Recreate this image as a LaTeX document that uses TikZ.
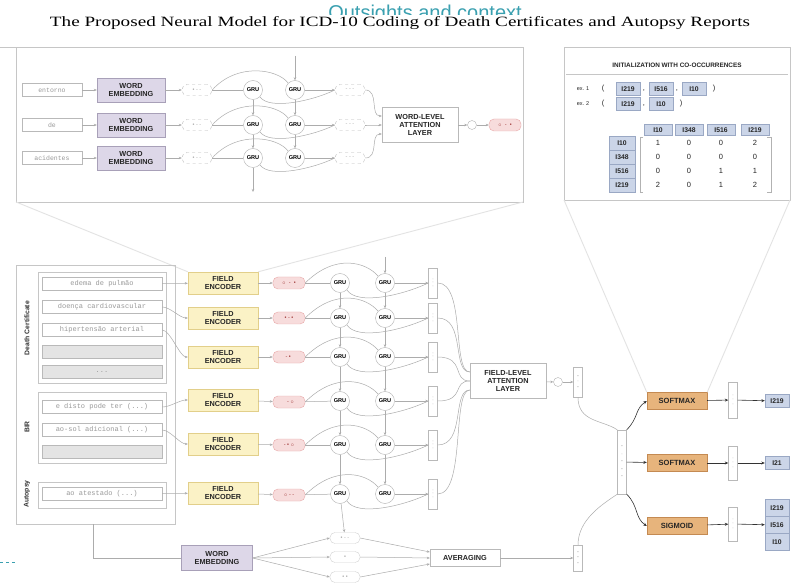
\documentclass[tikz,border=0pt]{standalone}
\usepackage{fontspec}
\usepackage{graphicx}
\setmainfont{Liberation Serif}
\setsansfont{Liberation Sans}
\setmonofont{Liberation Mono}
\usetikzlibrary{arrows.meta,calc}
\definecolor{lavf}{HTML}{DDD7E8}
\definecolor{lavb}{HTML}{A8A0B8}
\definecolor{yelf}{HTML}{FBF2C6}
\definecolor{yelb}{HTML}{E2CF8A}
\definecolor{pinkf}{HTML}{F7DCDC}
\definecolor{pinkb}{HTML}{E8A8A8}
\definecolor{dred}{HTML}{9A2E2E}
\definecolor{orf}{HTML}{E7B47C}
\definecolor{orb}{HTML}{C48A52}
\definecolor{bluf}{HTML}{CBD5E8}
\definecolor{blub}{HTML}{9AA8C4}
\definecolor{rowg}{HTML}{E4E4E4}
\definecolor{tealc}{HTML}{3AA0B0}
\begin{document}
\begin{tikzpicture}[x=1pt,y=-1pt,
  lb/.style={font=\sffamily\bfseries\fontsize{7.3}{8}\selectfont, align=center, inner sep=1pt, text=black!85},
  wemb/.style={lb, draw=lavb, fill=lavf, minimum width=68pt, minimum height=24pt},
  tbox/.style={draw=gray!55, minimum width=60pt, minimum height=13pt, font=\ttfamily\fontsize{6.5}{7}\selectfont, text=gray!80, inner sep=1pt},
  rowbox/.style={draw=gray!55, minimum width=120pt, minimum height=13pt, font=\ttfamily\fontsize{7}{7.5}\selectfont, text=gray!80, inner sep=1pt},
  rowgray/.style={rowbox, fill=rowg},
  grp/.style={draw=gray!45, line width=0.6pt},
  hvec/.style={draw=gray!55, dashed, rounded corners=5pt, minimum width=30pt, minimum height=11pt, inner sep=0pt, font=\sffamily\fontsize{5.5}{5.5}\selectfont, text=gray!70},
  gru/.style={circle, draw=gray!60, fill=white, minimum size=19pt, inner sep=0pt, font=\sffamily\bfseries\fontsize{5.6}{6}\selectfont},
  vvec/.style={draw=gray!55, fill=white, minimum width=9pt, minimum height=30pt, inner sep=0pt, align=center, font=\sffamily\fontsize{4}{4.5}\selectfont, text=gray!70},
  fenc/.style={lb, draw=yelb, fill=yelf, minimum width=70pt, minimum height=22pt},
  rvec/.style={draw=pinkb, fill=pinkf, rounded corners=5pt, minimum width=32pt, minimum height=12pt, inner sep=0pt, font=\sffamily\fontsize{5.5}{5.5}\selectfont, text=dred},
  attbox/.style={lb, draw=gray!55, minimum width=76pt, minimum height=35pt},
  actbox/.style={lb, draw=orb, fill=orf, minimum width=60pt, minimum height=17pt, font=\sffamily\bfseries\fontsize{7.5}{8}\selectfont},
  codelbl/.style={lb, draw=blub, fill=bluf, minimum width=24pt, minimum height=13pt, font=\sffamily\bfseries\fontsize{6.8}{7}\selectfont},
  smallc/.style={circle, draw=gray!60, minimum size=9pt, inner sep=0pt},
  conn/.style={draw=gray!65, line width=0.5pt},
  arr/.style={conn, -{Stealth[length=3pt,width=2.5pt]}},
  darkarr/.style={draw=gray!40!black, line width=0.6pt, -{Stealth[length=3.5pt,width=3pt]}},
  zoomln/.style={draw=gray!22, line width=0.9pt},
  panel/.style={draw=gray!45, line width=0.8pt},
  rotlbl/.style={rotate=90, font=\sffamily\bfseries\fontsize{6.8}{7}\selectfont, text=black!80},
  small/.style={lb, font=\sffamily\fontsize{7.5}{8}\selectfont},
]
\useasboundingbox (0,0) rectangle (798,585);
\fill[white] (0,0) rectangle (798,585);

% ---------- title ----------
\node[text=tealc, font=\sffamily\fontsize{20}{22}\selectfont] (wm) at (425,14) {Outsights and context};
\node[fill=white, inner sep=1.5pt] (title) at (400,23) {\resizebox{700pt}{10pt}{\fontsize{14}{16}\selectfont The Proposed Neural Model for ICD-10 Coding of Death Certificates and Autopsy Reports}};

\draw[gray!45, line width=0.8pt] (0,47) -- (16,47);
\draw[tealc, dashed, line width=0.8pt] (0,562) -- (16,562);

% ---------- zoom lines ----------
\coordinate (tpl) at (16,202);
\coordinate (tpr) at (523,202);
\coordinate (rpl) at (564,200);
\coordinate (rpr) at (790,200);

% ---------- top-left panel ----------
\draw[panel, fill=white] (16,47) rectangle (523,202);
\foreach \i/\y/\t in {1/90/entorno,2/125/de,3/158/acidentes}{
  \node[tbox] (w\i) at (52,\y) {\t};
  \node[wemb] (e\i) at (131,\y) {WORD\\EMBEDDING};
  \node[hvec] (v\i) at (197,\y) {\textbullet\ - -};
  \node[gru] (ga\i) at (253,\y) {GRU};
  \node[gru] (gb\i) at (295,\y) {GRU};
  \node[hvec] (h\i) at (350,\y) {- - -};
}
\node[attbox] (att) at (420,125) {WORD-LEVEL\\ATTENTION\\LAYER};
\node[smallc] (c1) at (472,125) {};
\node[rvec] (r1) at (505,125) {$\circ$\ \ -\ \ \textbullet};
\coordinate (gbtop) at (295,56);
\coordinate (gabot) at (253,192);
\foreach \i/\o in {1/-9,2/0,3/9}{
  \draw[arr] (w\i) -- (e\i);
  \draw[arr] (e\i) -- (v\i);
  \draw[conn] (v\i) -- (ga\i);
  \draw[conn] (v\i.east) .. controls +(25,-28) and +(-10,-14) .. (gb\i.north west);
  \draw[conn] (ga\i.south east) .. controls +(10,14) and +(-20,10) .. (h\i.west);
  \draw[arr] (gb\i) -- (h\i);
  \draw[arr] (h\i.east) .. controls +(14,0) and +(-12,0) .. ($(att.west)+(0,\o)$);
}
\draw[arr] (gbtop) -- (gb1);
\draw[arr] (gb1) -- (gb2);
\draw[arr] (gb2) -- (gb3);
\draw[arr] (ga1) -- (ga2);
\draw[arr] (ga2) -- (ga3);
\draw[arr] (ga3) -- (gabot);
\draw[arr] (att) -- (c1);
\draw[arr] (c1) -- (r1);

% ---------- right panel ----------
\draw[panel, fill=white] (564,47) rectangle (790,200);
\node[lb, font=\sffamily\bfseries\fontsize{6.4}{7}\selectfont] (hdr) at (677,65) {INITIALIZATION WITH CO-OCCURRENCES};
\draw[gray!45] (566,74) -- (788,74);
\node[lb, font=\sffamily\fontsize{5.5}{6}\selectfont] (ex1) at (583,89) {ex. 1};
\node[small] (p1) at (603,89) {(};
\node[codelbl] (x11) at (628,89) {I219};
\node[small] at (644,91) {,};
\node[codelbl] (x12) at (661,89) {I516};
\node[small] at (677,91) {,};
\node[codelbl] (x13) at (694,89) {I10};
\node[small] (p2) at (714,89) {)};
\node[lb, font=\sffamily\fontsize{5.5}{6}\selectfont] (ex2) at (583,104) {ex. 2};
\node[small] (p3) at (603,104) {(};
\node[codelbl] (x21) at (628,104) {I219};
\node[small] at (644,106) {,};
\node[codelbl] (x22) at (661,104) {I10};
\node[small] (p4) at (681,104) {)};
\foreach \c/\x/\t in {1/658/I10,2/689/I348,3/721/I516,4/755/I219}{
  \node[codelbl, minimum width=28pt, minimum height=11pt] (ch\c) at (\x,130) {\t};
}
\foreach \r/\y/\t in {1/143/I10,2/157/I348,3/171/I516,4/185/I219}{
  \node[codelbl, minimum width=26pt, minimum height=14pt] (rh\r) at (622,\y) {\t};
}
\foreach \r/\y/\a/\b/\c/\d in {1/143/1/0/0/2,2/157/0/0/0/0,3/171/0/0/1/1,4/185/2/0/1/2}{
  \node[small] at (658,\y) {\a};
  \node[small] at (689,\y) {\b};
  \node[small] at (721,\y) {\c};
  \node[small] at (755,\y) {\d};
}
\draw[gray!60, line width=0.6pt] (643,137) -- (640,137) -- (640,192) -- (643,192);
\draw[gray!60, line width=0.6pt] (767,137) -- (771,137) -- (771,192) -- (767,192);

% ---------- zoom guide lines ----------
\node[fenc] (fe1) at (223,283) {FIELD\\ENCODER};
\draw[zoomln] (tpl) -- (fe1.north west);
\draw[zoomln] (tpr) -- (fe1.north east);

% ---------- left input panel ----------
\draw[panel] (16,265) rectangle (175,524);
\draw[grp] (38,272) rectangle (166,383);
\draw[grp] (38,392) rectangle (166,463);
\draw[grp] (38,482) rectangle (166,508);
\node[rotlbl] (dcl) at (27,328) {Death Certificate};
\node[rotlbl] (birl) at (27,427) {BIR};
\node[rotlbl] (aul) at (27,494) {Autopsy};
\node[rowbox] (d1) at (102,284) {edema de pulmão};
\node[rowbox] (d2) at (102,307) {doença cardiovascular};
\node[rowbox] (d3) at (102,330) {hipertensão arterial};
\node[rowgray] (d4) at (102,352) {};
\node[rowgray] (d5) at (102,372) {...};
\node[rowbox] (b1) at (102,407) {e disto pode ter (...)};
\node[rowbox] (b2) at (102,430) {ao-sol adicional (...)};
\node[rowgray] (b3) at (102,452) {};
\node[rowbox] (a1) at (102,494) {ao atestado (...)};

% ---------- field encoders & GRUs ----------
\foreach \i/\y in {2/318,3/357,4/400,5/444,6/493}{
  \node[fenc] (fe\i) at (223,\y) {FIELD\\ENCODER};
}
\foreach \i/\y/\t in {1/283/{$\circ$\ \ -\ \ \textbullet},2/318/{\textbullet\ - \textbullet},3/357/{- \textbullet\ \ },4/402/{\ \ - $\circ$},5/445/{- \textbullet\ $\circ$},6/495/{$\circ$\ - -}}{
  \node[rvec] (rv\i) at (289,\y) {\t};
}
\foreach \i/\y in {1/283,2/318,3/357,4/401,5/445,6/494}{
  \node[gru] (gc\i) at (340,\y) {GRU};
  \node[gru] (gd\i) at (385,\y) {GRU};
  \node[vvec] (hv\i) at (433,\y) {-\\[-1pt]-\\[-1pt]-};
}
\draw[arr] (d1) -- (fe1);
\draw[arr] (d2.east) .. controls +(8,0) and +(-8,0) .. (fe2.west);
\draw[arr] (d3.east) .. controls +(8,0) and +(-8,0) .. (fe3.west);
\draw[arr] (b1.east) .. controls +(8,0) and +(-8,0) .. (fe4.west);
\draw[arr] (b2.east) .. controls +(8,0) and +(-8,0) .. (fe5.west);
\draw[arr] (a1) -- (fe6);
\foreach \i/\o in {1/-9,2/-9,3/0,4/0,5/9,6/9}{
  \draw[arr] (fe\i) -- (rv\i);
  \draw[conn] (rv\i) -- (gc\i);
  \draw[conn] (rv\i.east) .. controls +(30,-30) and +(-12,-14) .. (gd\i.north west);
  \draw[conn] (gc\i.south east) .. controls +(10,16) and +(-25,12) .. (hv\i.west);
  \draw[arr] (gd\i) -- (hv\i);
}
\node[attbox] (fatt) at (508,381) {FIELD-LEVEL\\ATTENTION\\LAYER};
\foreach \i/\o in {1/-9,2/-9,3/0,4/0,5/9,6/9}{
  \draw[conn] (hv\i.east) .. controls +(28,0) and +(-18,0) .. ($(fatt.west)+(0,\o)$);
}
\coordinate (gdtop) at (385,257);
\draw[arr] (gdtop) -- (gd1);
\foreach \i/\j in {1/2,2/3,3/4,4/5,5/6}{
  \draw[arr] (gc\i) -- (gc\j);
  \draw[arr] (gd\i) -- (gd\j);
}
\node[smallc] (c2) at (558,382) {};
\node[vvec] (fv) at (578,382) {\textbullet\\[1pt]-\\[1pt]\textbullet};
\draw[arr] (fatt) -- (c2);
\draw[arr] (c2) -- (fv);

% ---------- bottom path ----------
\node[wemb, minimum width=71pt, minimum height=25pt] (we2) at (217,558) {WORD\\EMBEDDING};
\draw[conn] (93,524) -- (93,558) -- (we2.west);
\node[hvec, solid, draw=gray!35] (bv1) at (345,538) {\textbullet\ - -};
\node[hvec, solid, draw=gray!35] (bv2) at (345,557) {\textbullet};
\node[hvec, solid, draw=gray!35] (bv3) at (345,577) {\textbullet\ \textbullet};
\node[lb, draw=gray!55, minimum width=70pt, minimum height=17pt] (avg) at (465,558) {AVERAGING};
\node[vvec, minimum height=26pt] (av) at (578,558) {\textbullet\\[1pt]\textbullet\\[1pt]\textbullet};
\draw[arr] (gc6) -- (bv1);
\foreach \i/\o in {1/-6,2/0,3/6}{
  \draw[arr] (we2.east) -- (bv\i.west);
  \draw[arr] (bv\i.east) -- ($(avg.west)+(0,\o)$);
}
\draw[arr] (avg) -- (av);

% ---------- output section ----------
\node[vvec, minimum height=64pt] (cv) at (622,462) {\textbullet\\[3pt]-\\[3pt]\textbullet\\[3pt]\textbullet\\[3pt]\textbullet};
\draw[conn] (fv.south) .. controls +(0,25) and +(-15,-10) .. (cv.north west);
\draw[conn] (av.north) .. controls +(0,-25) and +(-15,10) .. (cv.south west);
\node[actbox] (sm1) at (677,401) {SOFTMAX};
\node[actbox] (sm2) at (677,463) {SOFTMAX};
\node[actbox] (sg) at (677,526) {SIGMOID};
\draw[zoomln] (rpl) -- (sm1.north west);
\draw[zoomln] (rpr) -- (sm1.north east);
\node[vvec, minimum height=36pt] (o1) at (733,400) {-\\-\\-};
\node[vvec, minimum height=34pt] (o2) at (733,463) {-\\-\\-};
\node[vvec, minimum height=34pt] (o3) at (733,524) {-\\-\\-};
\node[codelbl] (l1) at (777,401) {I219};
\node[codelbl] (l2) at (777,463) {I21};
\node[codelbl, minimum height=17pt] (l3a) at (777,508) {I219};
\node[codelbl, minimum height=17pt] (l3b) at (777,525) {I516};
\node[codelbl, minimum height=17pt] (l3c) at (777,542) {I10};
\draw[darkarr] (cv.north east) .. controls +(12,-12) and +(-12,8) .. (sm1.west);
\draw[darkarr] (cv) -- (sm2);
\draw[darkarr] (cv.south east) .. controls +(12,12) and +(-12,-8) .. (sg.west);
\draw[darkarr] (sm1) -- (o1);
\draw[darkarr] (sm2) -- (o2);
\draw[darkarr] (sg) -- (o3);
\draw[darkarr] (o1) -- (l1);
\draw[darkarr] (o2) -- (l2);
\draw[darkarr] (o3) -- (l3b);
\end{tikzpicture}
\end{document}
